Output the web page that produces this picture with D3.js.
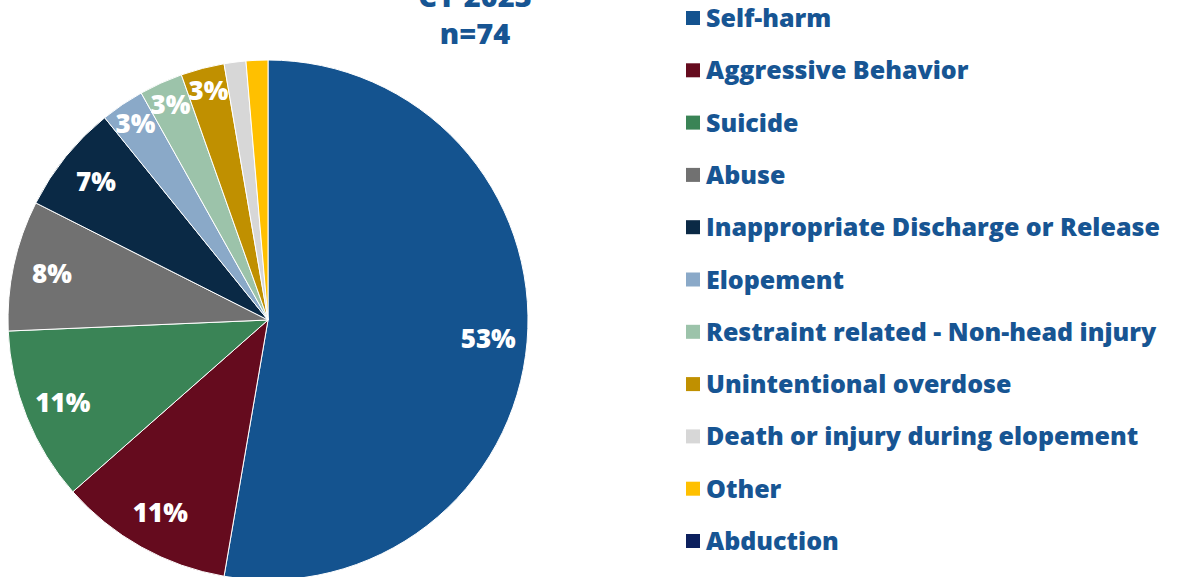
<!DOCTYPE html>
<html>
<head>
<meta charset="utf-8">
<script src="https://cdn.jsdelivr.net/npm/d3@7"></script>
<style>
  html, body { margin: 0; padding: 0; background: #fff; overflow: hidden; }
  svg { display: block; font-family: "Open Sans", Lato, sans-serif; }
</style>
</head>
<body>
<svg id="chart" width="1179" height="577"></svg>
<script>
// Incident categories and counts (CY 2023, n=74)
const categories = [
  "Self-harm",
  "Aggressive Behavior",
  "Suicide",
  "Abuse",
  "Inappropriate Discharge or Release",
  "Elopement",
  "Restraint related - Non-head injury",
  "Unintentional overdose",
  "Death or injury during elopement",
  "Other",
  "Abduction"
];
const counts = [39, 8, 8, 6, 5, 2, 2, 2, 1, 1, 0];
const colors = [
  "#14538f", "#650b1e", "#3a8456", "#717171", "#0a2945", "#8aa9c8",
  "#9cc3aa", "#c09000", "#d7d7d7", "#ffc000", "#0c205e"
];
const titleLines = ["CY 2023", "n=74"];

const svg = d3.select("#chart");
const total = d3.sum(counts);
const data = categories.map((c, i) => ({ name: c, value: counts[i], color: colors[i] }));

const cx = 268, cy = 320, radius = 260;

const pie = d3.pie().value(d => d.value).sort(null);
const arcs = pie(data);
const arc = d3.arc().innerRadius(0).outerRadius(radius);

const g = svg.append("g").attr("transform", `translate(${cx},${cy})`);

g.selectAll("path.slice")
  .data(arcs.filter(a => a.data.value > 0))
  .join("path")
  .attr("class", "slice")
  .attr("d", arc)
  .attr("fill", d => d.data.color)
  .attr("stroke", "#ffffff")
  .attr("stroke-width", 1);

// Percentage labels; thin slices under 2% stay unlabeled
const pct = v => Math.round(v / total * 100);
const bigLabelArc = d3.arc().innerRadius(radius * 0.85).outerRadius(radius * 0.85);
const smallLabelArc = d3.arc().innerRadius(radius * 0.91).outerRadius(radius * 0.91);

g.selectAll("text.pct")
  .data(arcs.filter(a => pct(a.data.value) >= 2))
  .join("text")
  .attr("class", "pct")
  .attr("transform", d => {
    const p = (pct(d.data.value) >= 5 ? bigLabelArc : smallLabelArc).centroid(d);
    return `translate(${p[0]},${p[1]})`;
  })
  .attr("text-anchor", "middle")
  .attr("dy", "0.36em")
  .attr("fill", "#ffffff")
  .attr("font-size", 26)
  .attr("font-weight", 800)
  .text(d => pct(d.data.value) + "%");

// Title
svg.append("text")
  .attr("text-anchor", "middle")
  .attr("fill", "#175593")
  .attr("font-size", 29)
  .attr("font-weight", 800)
  .selectAll("tspan")
  .data(titleLines)
  .join("tspan")
  .attr("x", 475)
  .attr("y", (d, i) => 7 + i * 37)
  .text(d => d);

// Legend
const legend = svg.append("g").attr("transform", "translate(686,0)");
const rowY = d3.scalePoint().domain(categories).range([18, 541]);
const items = legend.selectAll("g.item")
  .data(data)
  .join("g")
  .attr("class", "item")
  .attr("transform", d => `translate(0,${rowY(d.name)})`);
items.append("rect")
  .attr("x", 0).attr("y", -7)
  .attr("width", 14).attr("height", 14)
  .attr("fill", d => d.color);
items.append("text")
  .attr("x", 20)
  .attr("dy", "0.36em")
  .attr("fill", "#175593")
  .attr("font-size", 25)
  .attr("font-weight", 800)
  .text(d => d.name);
</script>
</body>
</html>
